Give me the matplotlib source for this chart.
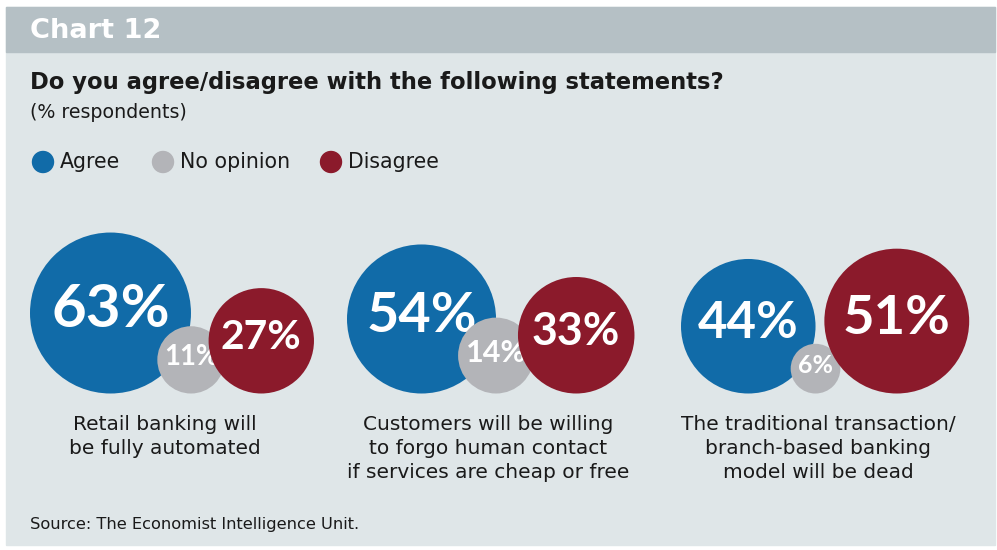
import numpy as np
import matplotlib.pyplot as plt
from matplotlib.patches import Circle, Rectangle

# data
statements = ["Retail banking will\nbe fully automated",
              "Customers will be willing\nto forgo human contact\nif services are cheap or free",
              "The traditional transaction/\nbranch-based banking\nmodel will be dead"]
agree = [63, 54, 44]
no_opinion = [11, 14, 6]
disagree = [27, 33, 51]
series = ["Agree", "No opinion", "Disagree"]

# colours
c_blue = "#116ba8"
c_grey = "#b3b4b8"
c_red = "#8b1a2b"
c_bg = "#dfe6e8"
c_bar = "#b5c0c5"

# layout (pixel units)
W, H = 997, 550
k = 10.14           # radius = k * sqrt(value)
left_edges = [30, 347, 681]
label_x = [165, 488, 818]
base_y = 393.5      # circles sit on this line
overlap = 16

fig = plt.figure(figsize=(W / 100, H / 100), dpi=100)
fig.patch.set_facecolor("white")
ax = fig.add_axes([0, 0, 1, 1])
ax.set_xlim(0, W)
ax.set_ylim(H, 0)
ax.set_aspect("equal")
ax.axis("off")

ax.add_patch(Rectangle((6, 7), 989, 538, color=c_bg, zorder=0))
ax.add_patch(Rectangle((6, 7), 989, 45, color=c_bar, zorder=1))

ax.text(30, 31, "Chart 12", color="white", fontsize=19.6, fontweight="bold",
        va="center", ha="left", zorder=2)
ax.text(30, 82, "Do you agree/disagree with the following statements?",
        fontsize=16.3, fontweight="bold", color="#1a1a1a", va="center", ha="left")
ax.text(30, 112, "(% respondents)", fontsize=13.7, color="#1a1a1a",
        va="center", ha="left")

# legend
leg_x = [43, 163, 331]
for lx, name, col in zip(leg_x, series, [c_blue, c_grey, c_red]):
    ax.add_patch(Circle((lx, 162), 10.5, color=col, zorder=2))
    ax.text(lx + 17, 162, name, fontsize=14.8, color="#1a1a1a", va="center", ha="left")


def label_size(r):
    h = max(18, 0.5 * r + 3)      # digit height in px
    return h / 0.72 / (100 / 72)


def bubble(cx, r, col, val, z):
    cy = base_y - r
    ax.add_patch(Circle((cx, cy), r, color=col, zorder=z, linewidth=0))
    ax.text(cx, cy - 3, f"{val}%", color="white", fontsize=label_size(r),
            family="Lato", fontweight="bold", ha="center", va="center", zorder=z + 0.5)


for i in range(3):
    rb = k * np.sqrt(agree[i])
    rg = k * np.sqrt(no_opinion[i])
    rr = k * np.sqrt(disagree[i])
    bx = left_edges[i] + rb
    gx = bx + rb
    rx = gx + rg + rr - overlap
    bubble(bx, rb, c_blue, agree[i], 3)
    bubble(gx, rg, c_grey, no_opinion[i], 5)
    bubble(rx, rr, c_red, disagree[i], 7)
    ax.text(label_x[i], 415.5, statements[i], fontsize=14.5, color="#1a1a1a",
            ha="center", va="top", linespacing=1.3)

ax.text(30, 524, "Source: The Economist Intelligence Unit.", fontsize=11.7,
        color="#1a1a1a", va="center", ha="left")

fig.savefig("out.png", dpi=100, facecolor=fig.get_facecolor())
